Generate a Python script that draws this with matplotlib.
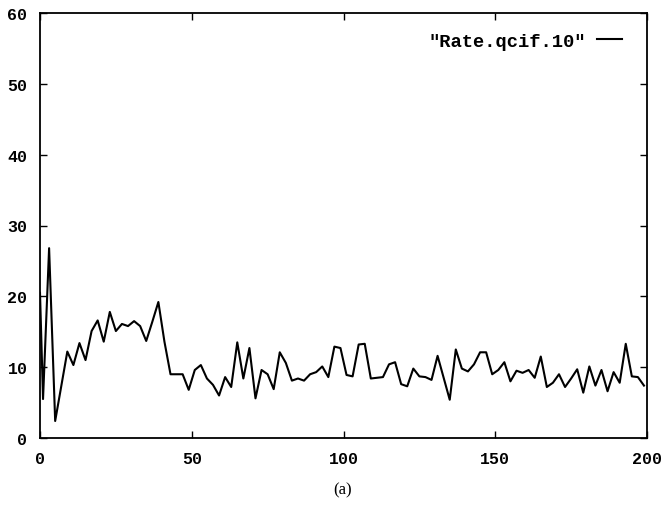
import matplotlib
matplotlib.use("Agg")
import matplotlib.pyplot as plt


# dados (taxa por quadro)
frames = [0] + list(range(1, 200, 2))
rate = [
    20.5,
    5.5, 26.8, 2.4, 7.3, 12.2, 10.3, 13.4, 11.0, 15.1, 16.6,
    13.6, 17.8, 15.1, 16.1, 15.8, 16.5, 15.8, 13.7, 16.4, 19.2,
    13.6, 9.0, 9.0, 9.0, 6.8, 9.6, 10.3, 8.4, 7.5, 6.0,
    8.6, 7.2, 13.5, 8.4, 12.7, 5.6, 9.6, 9.0, 6.9, 12.1,
    10.6, 8.1, 8.4, 8.1, 9.0, 9.3, 10.1, 8.6, 12.9, 12.7,
    8.9, 8.7, 13.2, 13.3, 8.4, 8.5, 8.6, 10.4, 10.7, 7.6,
    7.3, 9.8, 8.7, 8.6, 8.2, 11.6, 8.5, 5.4, 12.5, 9.8,
    9.4, 10.4, 12.1, 12.1, 9.0, 9.6, 10.7, 8.0, 9.5, 9.2,
    9.6, 8.5, 11.5, 7.2, 7.8, 9.0, 7.2, 8.4, 9.7, 6.4,
    10.1, 7.4, 9.6, 6.6, 9.3, 7.8, 13.3, 8.7, 8.6, 7.4,
]
xticks = [0, 50, 100, 150, 200]
yticks = [0, 10, 20, 30, 40, 50, 60]
legenda = '"Rate.qcif.10"'
rotulo = "(a)"

fonte_mono = {"family": "Liberation Mono", "weight": "bold", "size": 12}

fig = plt.figure(figsize=(6.62, 5.10), dpi=100)
ax = fig.add_axes([40 / 662, 1 - 439 / 510, 607 / 662, 425 / 510])

ax.plot(frames, rate, color="black", linewidth=1.5, label=legenda)

ax.set_xlim(0, 200)
ax.set_ylim(0, 60)
ax.set_xticks(xticks)
ax.set_yticks(yticks)
ax.tick_params(direction="in", length=5, width=1, top=True, right=True)
ax.tick_params(axis="x", pad=9)
ax.tick_params(axis="y", pad=9)
for lbl in ax.get_xticklabels() + ax.get_yticklabels():
    lbl.set_fontfamily("Liberation Mono")
    lbl.set_fontweight("bold")
    lbl.set_fontsize(12)
for s in ax.spines.values():
    s.set_linewidth(1.3)

ax.legend(loc="center right", bbox_to_anchor=(0.959, 0.934), frameon=False,
          markerfirst=False, handlelength=1.35, handletextpad=0.6,
          borderpad=0, borderaxespad=0,
          prop={"family": "Liberation Mono", "weight": "bold", "size": 13.5})

fig.text(343 / 662, 1 - 490 / 510, rotulo, ha="center", va="center",
         fontfamily="Liberation Serif", fontsize=12)

fig.savefig("out.png", dpi=100)
